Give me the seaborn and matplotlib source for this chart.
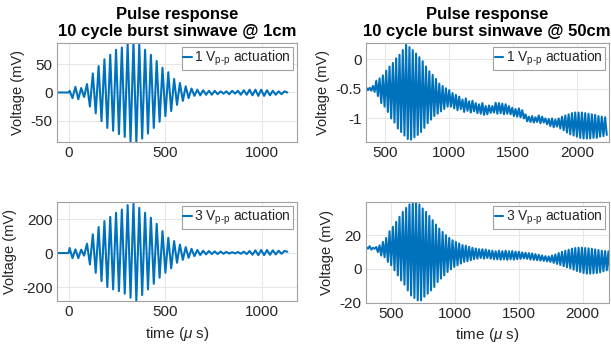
import numpy as np
import pandas as pd
import seaborn as sns
import matplotlib.pyplot as plt
from matplotlib.ticker import FormatStrFormatter

# Peak values, one (upper, lower) pair per cycle.
# Burst at 1 cm, 1 Vpp (mV); period ~30 us, first cycle at t=5 us
tl_pre_t = [-58, 0]
tl_pre_v = [0, 0]
tl_t0, tl_period = 5, 30
tl_upper = [3, 10, 8, 15, 34, 47, 59, 67, 76, 80, 87, 90, 85, 76, 67, 56, 44, 36, 24,
            17, 11, 7, 5, 4, 3, 3, 2, 2, 3, 3, 4, 5, 5, 5, 4, 3, 2, 2]
tl_lower = [-10, -12, -8, -25, -37, -51, -63, -68, -74, -79, -88, -90, -82, -73, -63, -52,
            -42, -33, -22, -15, -10, -6, -5, -4, -4, -3, -2, -3, -2, -4, -4, -5, -6, -6,
            -5, -4, -3, 0]

# Burst at 1 cm, 3 Vpp (mV)
bl_pre_t = [-58, 0]
bl_pre_v = [0, 0]
bl_t0, bl_period = 5, 30
bl_upper = [30, 22, 20, 55, 110, 153, 188, 213, 237, 256, 282, 292, 266, 237, 208, 172,
            129, 90, 70, 50, 35, 25, 18, 14, 12, 10, 9, 7, 5, 6, 8, 12, 16, 18, 18, 16, 14, 12]
bl_lower = [-30, -30, -15, -67, -116, -165, -200, -214, -224, -239, -263, -282, -247, -214,
            -181, -145, -116, -90, -57, -40, -28, -18, -12, -8, -6, -6, -4, -3, -2, -4, -6,
            -10, -12, -12, -10, -8, -4, 8]

# Burst at 50 cm, 1 Vpp (mV); period ~26 us
tr_pre_t = [345]
tr_pre_v = [-0.5]
tr_t0, tr_period = 350, 26
tr_upper = [-0.48, -0.48, -0.45, -0.36, -0.32, -0.27, -0.19, -0.12, -0.06, 0.02, 0.08,
            0.16, 0.25, 0.21, 0.16, 0.10, 0.04, -0.03, -0.12, -0.20, -0.26, -0.33, -0.41,
            -0.45, -0.49, -0.52, -0.57, -0.60, -0.63, -0.68, -0.66, -0.71, -0.70, -0.74,
            -0.76, -0.74, -0.79, -0.78, -0.79, -0.735, -0.74, -0.75, -0.76, -0.79, -0.82,
            -0.84, -0.83, -0.86, -0.93, -0.97, -0.96, -0.98, -0.95, -0.97, -1.00, -1.01,
            -1.00, -1.02, -1.00, -0.97, -0.95, -0.93, -0.91, -0.90, -0.90, -0.90, -0.91,
            -0.92, -0.93, -0.94, -0.96, -0.97, -0.98]
tr_lower = [-0.52, -0.53, -0.55, -0.62, -0.74, -0.80, -0.89, -1.00, -1.07, -1.17, -1.23,
            -1.29, -1.35, -1.36, -1.32, -1.28, -1.23, -1.16, -1.08, -1.02, -0.96, -0.92,
            -0.88, -0.84, -0.80, -0.80, -0.83, -0.86, -0.84, -0.89, -0.87, -0.90, -0.88,
            -0.91, -0.92, -0.94, -0.93, -0.905, -0.90, -0.92, -0.91, -0.93, -0.92, -0.93,
            -0.96, -0.97, -0.98, -1.00, -1.05, -1.06, -1.07, -1.06, -1.08, -1.07, -1.10,
            -1.13, -1.15, -1.14, -1.17, -1.20, -1.24, -1.27, -1.29, -1.31, -1.33, -1.34,
            -1.34, -1.34, -1.33, -1.33, -1.31, -1.30, -1.28]

# Burst at 50 cm, 3 Vpp (mV)
br_pre_t = [300]
br_pre_v = [12.5]
br_t0, br_period = 305, 26
br_upper = [13, 13.5, 12.5, 13, 14, 16, 18.4, 22.3, 25, 27.9, 30.9, 33.8, 36.2, 38.2, 39.8,
            39.8, 38.2, 35.8, 33.8, 31.4, 28.9, 26.3, 23.9, 21.9, 20, 18.4, 17, 16, 15.1,
            14.1, 13.8, 13.1, 12.5, 12.1, 11.7, 11.7, 11.5, 11.1, 10.8, 10.5, 10.8, 10.5,
            10.8, 10.5, 10.6, 10.3, 10.2, 9.8, 9.6, 9.4, 9.2, 8.8, 8.4, 8.0, 7.6, 7.4, 8.0,
            8.6, 9.4, 10.2, 10.8, 11.4, 12.0, 12.4, 12.6, 12.6, 12.4, 12.2, 12.0, 11.6,
            11.2, 10.8, 10.6, 10.4]
br_lower = [12, 11.5, 12, 10, 8, 7, 4.2, 2.2, -0.8, -3.8, -6.8, -9.3, -12.7, -15.7, -17.2,
            -18.6, -18.6, -16.4, -14.7, -12.7, -10.7, -7.7, -5.7, -3.8, -1.8, -0.2, 1.2, 2.2,
            3.2, 4.2, 4.6, 5.2, 5.8, 6.1, 6.5, 6.1, 6.5, 6.1, 5.8, 5.7, 5.5, 5.7, 5.4, 5.7,
            5.5, 5.8, 6.0, 6.2, 6.0, 5.6, 5.4, 5.2, 5.0, 4.8, 4.5, 4.2, 3.6, 3.0, 2.4, 1.6,
            1.0, 0.4, -0.4, -1.2, -1.8, -2.4, -2.8, -2.8, -2.6, -2.4, -2.0, -1.4, -0.8, -2.6]


def burst(pre_t, pre_v, t0, period, upper, lower):
    t, v = list(pre_t), list(pre_v)
    for k, (u, l) in enumerate(zip(upper, lower)):
        t += [t0 + k * period, t0 + k * period + period / 2]
        v += [u, l]
    return pd.DataFrame({'time': t, 'voltage': v})


sns.set_theme(style='whitegrid')
plt.rcParams['font.family'] = ['Liberation Sans', 'DejaVu Sans']
plt.rcParams['axes.unicode_minus'] = False
plt.rcParams['mathtext.fontset'] = 'custom'
plt.rcParams['mathtext.rm'] = 'Liberation Sans'
plt.rcParams['mathtext.it'] = 'Liberation Sans:italic'

fig = plt.figure(figsize=(6.11, 3.45), dpi=100)

panels = [
    # data, rect, xlim, ylim, yticks, xticks, amplitude, title, xlabel?
    (burst(tl_pre_t, tl_pre_v, tl_t0, tl_period, tl_upper, tl_lower),
     [0.0933, 0.5884, 0.3928, 0.2870], (-60, 1180), (-88, 88), [-50, 0, 50], [0, 500, 1000],
     '1', 'Pulse response\n10 cycle burst sinwave @ 1cm', False),
    (burst(tr_pre_t, tr_pre_v, tr_t0, tr_period, tr_upper, tr_lower),
     [0.5985, 0.5884, 0.3977, 0.2870], (345, 2250), (-1.40, 0.28), [-1, -0.5, 0],
     [500, 1000, 1500, 2000], '1', 'Pulse response\n10 cycle burst sinwave @ 50cm', False),
    (burst(bl_pre_t, bl_pre_v, bl_t0, bl_period, bl_upper, bl_lower),
     [0.0933, 0.1275, 0.3928, 0.2878], (-60, 1180), (-282, 302), [-200, 0, 200],
     [0, 500, 1000], '3', None, True),
    (burst(br_pre_t, br_pre_v, br_t0, br_period, br_upper, br_lower),
     [0.5985, 0.1226, 0.3977, 0.2910], (300, 2205), (-20, 39.5), [-20, 0, 20],
     [500, 1000, 1500, 2000], '3', None, True),
]

for df, rect, xlim, ylim, yticks, xticks, amp, title, show_xlabel in panels:
    ax = fig.add_axes(rect)
    sns.lineplot(data=df, x='time', y='voltage', ax=ax, color='#0072BD', lw=1.5,
                 estimator=None, sort=False,
                 label=amp + r' V$_{\mathregular{p\text{-}p}}$ actuation')
    ax.set_xlim(*xlim)
    ax.set_ylim(*ylim)
    ax.set_xticks(xticks)
    ax.set_yticks(yticks)
    ax.yaxis.set_major_formatter(FormatStrFormatter('%g'))
    ax.grid(True, color='#e6e6e6', lw=0.7)
    for sp in ax.spines.values():
        sp.set_color('#a0a0a0')
        sp.set_linewidth(0.8)
    ax.tick_params(labelsize=11, colors='#262626', direction='in', length=3, pad=3,
                   color='#a0a0a0')
    ax.set_ylabel('Voltage (mV)', fontsize=10.5, color='#262626', labelpad=4)
    if show_xlabel:
        ax.set_xlabel(r'time ($\mu$ s)', fontsize=11, color='#262626', labelpad=4)
    else:
        ax.set_xlabel('')
    if title:
        ax.set_title(title, fontsize=12, fontweight='bold', color='black', pad=5,
                     linespacing=1.2)
    leg = ax.legend(loc='upper right', fontsize=10, frameon=True, fancybox=False,
                    handlelength=0.6, handletextpad=0.2, borderpad=0.12,
                    borderaxespad=0.3, framealpha=1)
    leg.get_frame().set_edgecolor('#a0a0a0')
    leg.get_frame().set_linewidth(0.8)

fig.savefig('out.png', dpi=100)
